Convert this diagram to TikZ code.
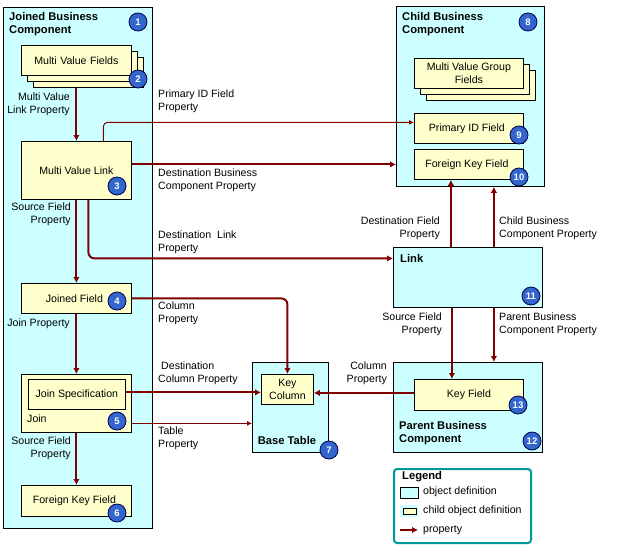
\documentclass[tikz,border=0pt]{standalone}
\usepackage{fontspec}
\setmainfont{Liberation Sans}
\usetikzlibrary{arrows.meta}
\definecolor{objfill}{RGB}{204,255,255}
\definecolor{childfill}{RGB}{255,255,204}
\definecolor{propred}{RGB}{128,0,0}
\definecolor{badgeblue}{RGB}{51,102,204}
\definecolor{legendteal}{RGB}{0,153,153}
\begin{document}
\begin{tikzpicture}[x=1pt, y=-1pt,
    every node/.style={font=\fontsize{10.6}{13}\selectfont},
    obj/.style={draw, line width=0.8pt, fill=objfill, anchor=north west, inner sep=0},
    child/.style={draw, line width=0.8pt, fill=childfill, anchor=north west, inner sep=0, align=center},
    badge/.style={circle, draw=black!70!blue, line width=0.8pt, fill=badgeblue, text=white, font=\fontsize{9.5}{9.5}\selectfont\bfseries, inner sep=0, minimum size=18pt},
    prop/.style={propred, line width=2pt, -{Latex[length=6pt,width=6.5pt]}},
    thinprop/.style={propred, line width=1pt, -{Latex[length=5pt,width=5pt]}},
    title/.style={font=\fontsize{11.2}{13}\selectfont\bfseries, align=left, anchor=west, inner sep=0},
    lab/.style={align=left, anchor=west, inner sep=0},
    rlab/.style={align=right, anchor=east, inner sep=0}]
  \useasboundingbox (0,0) rectangle (617,546);

  \node[obj, minimum width=149pt, minimum height=521pt] (jbc) at (3,7) {};
  \node[obj, minimum width=148pt, minimum height=180pt] (cbc) at (396,6) {};
  \node[obj, minimum width=149pt, minimum height=60pt] (link) at (393,247) {};
  \node[obj, minimum width=149pt, minimum height=90pt] (pbc) at (393,362) {};
  \node[obj, minimum width=76pt, minimum height=90pt] (bt) at (252,362) {};

  \node[title] (jbctitle) at (9,24.5) {Joined Business\\Component};
  \node[title] (cbctitle) at (402,24.5) {Child Business\\Component};
  \node[title] (linktitle) at (400,258) {Link};
  \node[title] (pbctitle) at (399,433.5) {Parent Business\\Component};
  \node[font=\fontsize{11.2}{13}\selectfont\bfseries] (bttitle) at (287,440) {Base Table};

  \node[child, minimum width=110pt, minimum height=30pt] (mvfc) at (33,57) {};
  \node[child, minimum width=110pt, minimum height=30pt] (mvfb) at (27,51) {};
  \node[child, minimum width=110pt, minimum height=30pt, text width=106pt, xshift=-2pt] (mvf) at (23,45) {Multi Value Fields};
  \node[child, minimum width=110pt, minimum height=58pt] (mvl) at (21,141) {Multi Value Link};
  \node[child, minimum width=110pt, minimum height=30pt] (jf) at (21,283) {Joined Field\hspace{4pt}};
  \node[child, minimum width=110pt, minimum height=58pt] (join) at (21,374) {};
  \node[child, minimum width=97pt, minimum height=30pt] (js) at (28,379) {Join Specification};
  \node[lab] (joinlab) at (27,419) {Join};
  \node[child, minimum width=110pt, minimum height=31pt] (fkf) at (21,485) {Foreign Key Field\hspace{4pt}};
  \node[child, minimum width=52pt, minimum height=30pt] (kc) at (261,374) {Key\\Column};

  \node[child, minimum width=109pt, minimum height=30pt] (mvgc) at (426,70) {};
  \node[child, minimum width=109pt, minimum height=30pt] (mvgb) at (420,64) {};
  \node[child, minimum width=109pt, minimum height=30pt] (mvg) at (414,58) {Multi Value Group\\Fields};
  \node[child, minimum width=109pt, minimum height=30pt] (pid) at (414,113) {Primary ID Field\hspace{4pt}};
  \node[child, minimum width=109pt, minimum height=30pt] (fkc) at (414,149) {Foreign Key Field\hspace{4pt}};
  \node[child, minimum width=109pt, minimum height=31pt] (kf) at (414,379) {Key Field};

  \draw[prop] (mvl.north |- mvfc.south) -- (mvl.north);
  \draw[thinprop, rounded corners=4pt] ([xshift=27pt]mvl.north) |- ([yshift=6pt]pid.west);
  \draw[prop] ([yshift=6pt]mvl.east) -- ([yshift=6pt]mvl.east -| cbc.west);
  \draw[prop, rounded corners=6pt] ([xshift=12pt]mvl.south) |- ([yshift=19pt]link.west);
  \draw[prop] (mvl.south) -- (jf.north);
  \draw[prop] (jf.south) -- (join.north);
  \draw[prop] (join.south) -- (fkf.north);
  \draw[prop, rounded corners=6pt] (jf.east) -| (kc.north);
  \draw[prop] ([yshift=2pt]js.east) -- ([yshift=2pt]js.east -| kc.west);
  \draw[thinprop] ([yshift=-20pt]join.east) -- ([yshift=-20pt]join.east -| bt.west);
  \draw[prop] ([yshift=2pt]kf.west) -- ([yshift=2pt]kf.west -| kc.east);
  \draw[prop] ([xshift=-17pt]link.north) -- ([xshift=-17pt]link.north |- fkc.south);
  \draw[prop] ([xshift=26pt]link.north) -- ([xshift=26pt]link.north |- cbc.south);
  \draw[prop] ([xshift=-16pt]link.south) -- ([xshift=-16pt]link.south |- kf.north);
  \draw[prop] ([xshift=26pt]link.south) -- ([xshift=26pt]link.south |- pbc.north);

  \node[rlab] (mvlp) at (70,104.5) {Multi Value\\Link Property};
  \node[lab] (pidp) at (158,101.5) {Primary ID Field\\Property};
  \node[lab] (dbcp) at (158,180) {Destination Business\\Component Property};
  \node[lab] (dlp) at (158,242) {Destination\ \ Link\\Property};
  \node[rlab] (sfp) at (71,214.5) {Source Field\\Property};
  \node[lab] (colp) at (158,313.5) {Column\\Property};
  \node[rlab] (jp) at (70,324) {Join Property};
  \node[lab] (dcp) at (158,373.5) {\hspace{3pt}Destination\\Column Property};
  \node[lab] (tp) at (158,438) {Table\\Property};
  \node[rlab] (sfp2) at (71,448.5) {Source Field\\Property};
  \node[rlab] (dfp) at (440,228) {Destination Field\\Property};
  \node[lab] (cbcp) at (499,228) {Child Business\\Component Property};
  \node[rlab] (sfp3) at (442,324) {Source Field\\Property};
  \node[lab] (pbcp) at (499,324) {Parent Business\\Component Property};
  \node[rlab] (colp2) at (387,373.5) {Column\\Property};

  \node[badge] (b1) at (138,22) {1};
  \node[badge] (b2) at (138,79) {2};
  \node[badge] (b3) at (117,186) {3};
  \node[badge] (b4) at (117,301) {4};
  \node[badge] (b5) at (117,421) {5};
  \node[badge] (b6) at (117,513) {6};
  \node[badge] (b7) at (329,450) {7};
  \node[badge] (b8) at (528,22) {8};
  \node[badge] (b9) at (519,135) {9};
  \node[badge] (b10) at (519,177) {10};
  \node[badge] (b11) at (531,296) {11};
  \node[badge] (b12) at (532,441) {12};
  \node[badge] (b13) at (518,405) {13};

  \node[draw=legendteal, line width=2pt, rounded corners=3pt, anchor=north west, minimum width=137pt, minimum height=74pt, inner sep=0] (legend) at (393,468) {};
  \node[title] (legtitle) at (402,477) {Legend};
  \node[obj, minimum width=18pt, minimum height=11pt] (legobj) at (400,487) {};
  \node[fill=objfill, anchor=north west, minimum width=18pt, minimum height=12pt, inner sep=0] (legchildbg) at (400,505) {};
  \node[child, minimum width=13pt, minimum height=6pt] (legchild) at (403,508) {};
  \coordinate (legA) at (400,530);
  \coordinate (legB) at (418,530);
  \draw[prop] (legA) -- (legB);
  \node[lab] (legobjtxt) at (423,492) {object definition};
  \node[lab] (legchildtxt) at (423,511) {child object definition};
  \node[lab] (legproptxt) at (423,530) {property};
\end{tikzpicture}
\end{document}
